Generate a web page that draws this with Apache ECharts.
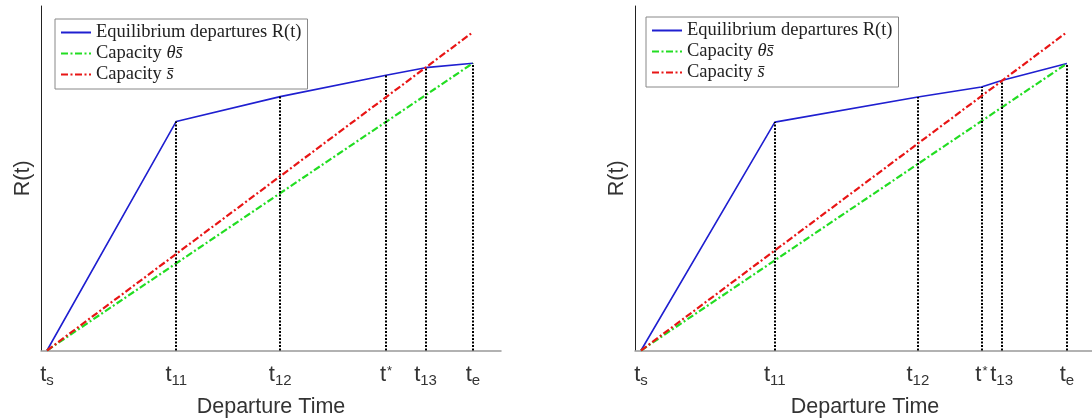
<!DOCTYPE html>
<html>
<head>
<meta charset="utf-8">
<script src="https://cdn.jsdelivr.net/npm/echarts@6/dist/echarts.min.js"></script>
<style>
  html, body { margin: 0; padding: 0; background: #fff; }
  #chart { width: 1092px; height: 419px; }
</style>
</head>
<body>
<div id="chart"></div>
<script>
// Tick labels: "_" marks a subscript, "^" a superscript
const tickLabels = ['t_s', 't_11', 't_12', 't^*', 't_13', 't_e'];

// Key times (ts, t11, t12, t*, t13, te) on a 0-100 time scale
const leftTimes  = [1.3, 29.4, 52.0, 75.0, 83.6, 93.9];
const rightTimes = [1.3, 30.4, 61.5, 75.3, 79.7, 93.9];

// Cumulative equilibrium departures R(t) at those times
const leftR  = [0, 66.5, 73.7, 79.9, 82.1, 83.4];
const rightR = [0, 66.3, 73.6, 76.5, 78.4, 83.3];

// Cumulative capacity reached at te
const capacityEnd      = [92.4, 92.4];   // capacity s̄
const thetaCapacityEnd = [83.4, 83.3];   // capacity θs̄

const seriesNames = ['Equilibrium departures R(t)', 'Capacity θs̄', 'Capacity s̄'];

const SANS = 'Liberation Sans, Arial, sans-serif';
const SERIF = 'Liberation Serif, Times New Roman, serif';

function tickRich(label) {
  const base = label[0];
  if (label[1] === '_') return '{m|' + base + '}{s|' + label.slice(2) + '}';
  if (label[1] === '^') return '{m|' + base + '}{p|' + label.slice(2) + '}';
  return '{m|' + label + '}';
}

function buildPanel(idx, times, rVals) {
  const ts = times[0], te = times[times.length - 1];
  const guides = times.slice(1).map((t, i) => [
    { coord: [t, 0] },
    { coord: [t, rVals[i + 1]] }
  ]);
  return [
    {
      name: seriesNames[0], type: 'line', xAxisIndex: idx, yAxisIndex: idx,
      data: times.map((t, i) => [t, rVals[i]]),
      symbol: 'none', z: 3,
      lineStyle: { color: '#1f1fd0', width: 1.6, type: 'solid' },
      itemStyle: { color: '#1f1fd0' },
      markLine: {
        silent: true, symbol: ['none', 'none'], label: { show: false },
        lineStyle: { color: '#000', width: 2, type: [2, 1.5] },
        emphasis: { disabled: true },
        data: guides
      }
    },
    {
      name: seriesNames[1], type: 'line', xAxisIndex: idx, yAxisIndex: idx,
      data: [[ts, 0], [te, thetaCapacityEnd[idx]]],
      symbol: 'none', z: 4,
      lineStyle: { color: '#22dd22', width: 2.2, type: [7, 2.5, 2, 2.5] },
      itemStyle: { color: '#22dd22' }
    },
    {
      name: seriesNames[2], type: 'line', xAxisIndex: idx, yAxisIndex: idx,
      data: [[ts, 0], [te, capacityEnd[idx]]],
      symbol: 'none', z: 5,
      lineStyle: { color: '#e81515', width: 2.2, type: [7, 2.5, 2, 2.5] },
      itemStyle: { color: '#e81515' }
    }
  ];
}

function xAxisFor(idx, times) {
  return {
    type: 'value', gridIndex: idx, min: 0, max: 100,
    name: 'Departure Time', nameLocation: 'middle', nameGap: 46,
    nameTextStyle: { fontFamily: SANS, fontSize: 21.5, color: '#333' },
    axisLine: { show: true, lineStyle: { color: '#999', width: 1.5 } },
    axisTick: { show: false },
    splitLine: { show: false },
    axisLabel: {
      customValues: times,
      margin: 13,
      formatter: function (v) {
        const i = times.findIndex(t => Math.abs(t - v) < 1e-6);
        return i >= 0 ? tickRich(tickLabels[i]) : '';
      },
      rich: {
        m: { fontFamily: SANS, fontSize: 22, color: '#333', lineHeight: 22, verticalAlign: 'top' },
        s: { fontFamily: SANS, fontSize: 15, color: '#333', lineHeight: 15, padding: [13, 0, 0, 0] },
        p: { fontFamily: SANS, fontSize: 13, color: '#333', lineHeight: 13, verticalAlign: 'top', padding: [1, 0, 0, 1] }
      }
    }
  };
}

function yAxisFor(idx) {
  return {
    type: 'value', gridIndex: idx, min: 0, max: 100,
    name: 'R(t)', nameLocation: 'middle', nameGap: 7,
    nameTextStyle: { fontFamily: SANS, fontSize: 21.5, color: '#333' },
    axisLine: { show: true, lineStyle: { color: '#222', width: 1 } },
    axisTick: { show: false },
    axisLabel: { show: false },
    splitLine: { show: false }
  };
}

function legendFor(left, top) {
  return {
    data: seriesNames,
    orient: 'vertical',
    left: left, top: top,
    padding: [4, 6, 5, 5],
    itemWidth: 30, itemHeight: 14, itemGap: 2,
    borderColor: '#888', borderWidth: 1,
    backgroundColor: '#fff',
    selectedMode: false,
    itemStyle: { opacity: 0 },
    textStyle: {
      fontFamily: SERIF, fontSize: 18.5, color: '#222',
      rich: {
        i: { fontFamily: SERIF, fontSize: 18.5, fontStyle: 'italic', color: '#222' }
      }
    },
    formatter: function (name) {
      if (name === seriesNames[1]) return 'Capacity {i|θs̄}';
      if (name === seriesNames[2]) return 'Capacity {i|s̄}';
      return name;
    }
  };
}

const chart = echarts.init(document.getElementById('chart'), null, { renderer: 'canvas' });
chart.setOption({
  animation: false,
  backgroundColor: '#fff',
  grid: [
    { left: 41, top: 6, width: 460, height: 344.5, outerBoundsMode: 'none', containLabel: false },
    { left: 635, top: 6, width: 460, height: 344.5, outerBoundsMode: 'none', containLabel: false }
  ],
  xAxis: [xAxisFor(0, leftTimes), xAxisFor(1, rightTimes)],
  yAxis: [yAxisFor(0), yAxisFor(1)],
  legend: [legendFor(55, 19), legendFor(646, 17)],
  series: [].concat(buildPanel(0, leftTimes, leftR), buildPanel(1, rightTimes, rightR))
});
</script>
</body>
</html>
